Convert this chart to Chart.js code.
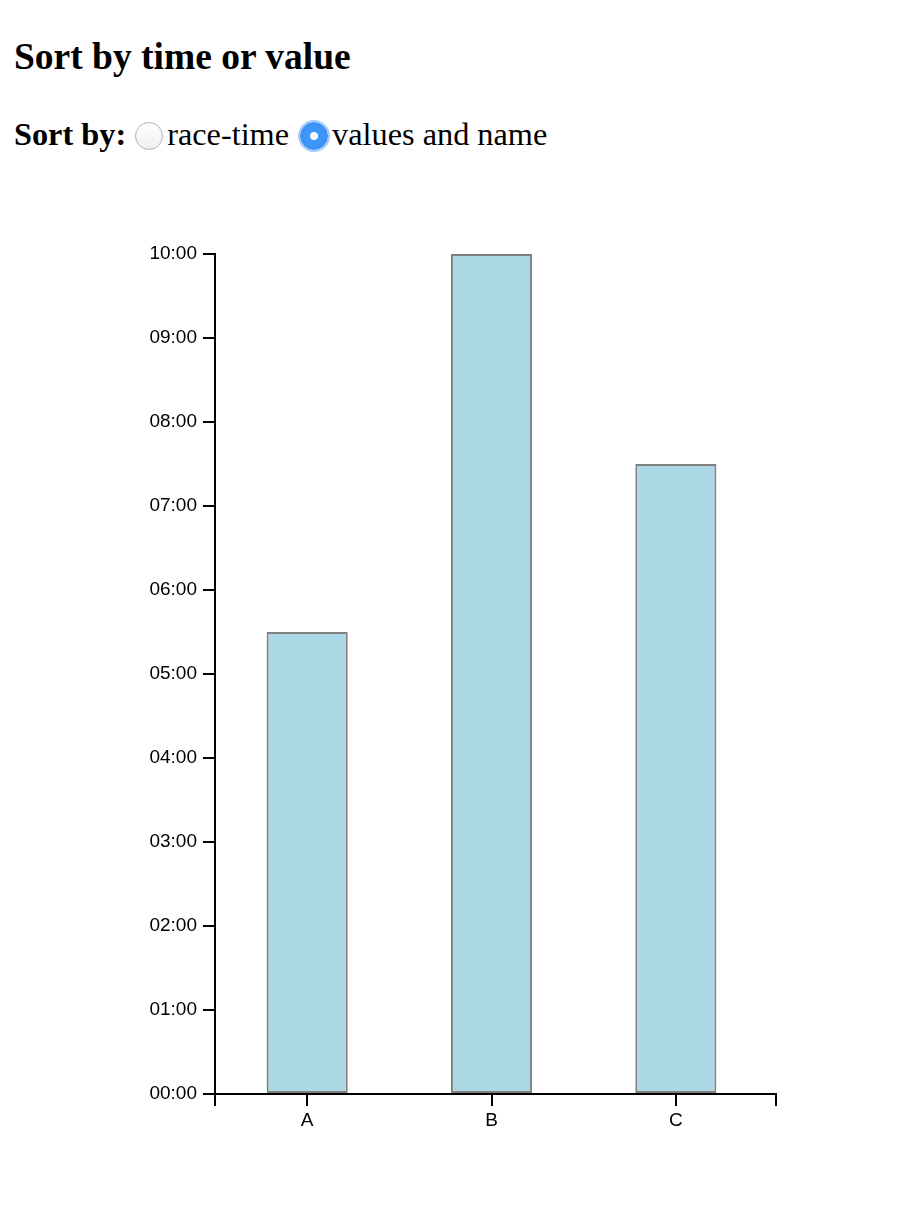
<!DOCTYPE html>
<html>
<head>
<meta charset="utf-8">
<script src="https://cdn.jsdelivr.net/npm/chart.js@4"></script>
<style>
    body { margin: 0; background: #fff; font-family: "Liberation Serif", "Times New Roman", serif; color: #000; }
    h2 { position: absolute; left: 14px; top: 34px; margin: 0; font-size: 37.5px; font-weight: bold; line-height: 46px; }
    #controls { position: absolute; left: 14px; top: 113px; font-size: 32.3px; line-height: 42px; white-space: nowrap; }
    #controls b { margin-right: 9px; }
    #controls input {
        -webkit-appearance: none; appearance: none;
        width: 28px; height: 28px; margin: 0 4px 0 0; vertical-align: -5px;
        border: 1px solid #b4b4b4; border-radius: 50%;
        background: linear-gradient(#fff, #f0f0f0);
    }
    #controls input:checked {
        border-color: #3b8ef0;
        background: radial-gradient(circle, #fff 0 3.5px, #3d95f7 4.5px);
        box-shadow: 0 0 0 2px #a6cbf8;
    }
    #controls label { margin-right: 11px; }
    #chart_box { position: absolute; left: 0; top: 230px; }
</style>
</head>
<body>
<h2>Sort by time or value</h2>
<div id="controls"><b>Sort by:</b><label><input type="radio" name="sort">race-time</label><label><input type="radio" name="sort" checked>values and name</label></div>
<div id="chart_box"><canvas id="canvas_times" width="914" height="930"></canvas></div>
<script>
var names = ["A", "B", "C"];
var times = [5.5, 10, 7.5];   // minutes
var y_ticks_max = 10;

function pad(n) {
    return (n < 10 ? "0" : "") + n;
}

function formatTime(v) {
    var m = Math.floor(v);
    var s = Math.round((v - m) * 60);
    return pad(m) + ":" + pad(s);
}

// x axis path runs a bit past the last band, with outer ticks at both ends (d3 style)
var axisEnd = 776;
var tickLen = 12;
var outerTicks = {
    id: "outerTicks",
    afterDraw: function(chart) {
        var ctx = chart.ctx;
        var area = chart.chartArea;
        ctx.save();
        ctx.strokeStyle = "#000";
        ctx.lineWidth = 2;
        ctx.beginPath();
        ctx.moveTo(area.right - 1, area.bottom);
        ctx.lineTo(axisEnd, area.bottom);
        ctx.moveTo(area.left, area.bottom);
        ctx.lineTo(area.left, area.bottom + tickLen);
        ctx.moveTo(axisEnd, area.bottom - 1);
        ctx.lineTo(axisEnd, area.bottom + tickLen);
        ctx.stroke();
        ctx.restore();
    }
};

function drawTimes() {
    var ctx = document.getElementById("canvas_times").getContext("2d");
    var barChart = new Chart(ctx, {
        type: 'bar',
        data: {
            labels: names,
            datasets: [{
                data: times,
                backgroundColor: "#add8e6",
                borderColor: "#808080",
                borderWidth: 2,
                borderSkipped: false,
                categoryPercentage: 1,
                barPercentage: 0.44
            }]
        },
        options: {
            responsive: false,
            animation: false,
            events: [],
            layout: { padding: { top: 24, right: 146, left: 0, bottom: 0 } },
            plugins: { legend: { display: false }, tooltip: { enabled: false } },
            scales: {
                x: {
                    offset: true,
                    border: { color: "#000", width: 2 },
                    grid: { offset: false, drawOnChartArea: false, drawTicks: true, tickLength: tickLen, color: "#000", lineWidth: 2 },
                    ticks: { color: "#000", padding: 3, font: { family: "Liberation Sans, Arial, sans-serif", size: 19 } },
                    afterFit: function(scale) { scale.height = 66; }
                },
                y: {
                    min: 0,
                    max: y_ticks_max,
                    border: { color: "#000", width: 2 },
                    grid: { drawOnChartArea: false, drawTicks: true, tickLength: tickLen, color: "#000", lineWidth: 2 },
                    ticks: {
                        stepSize: 1,
                        color: "#000",
                        padding: 6,
                        font: { family: "Liberation Sans, Arial, sans-serif", size: 19 },
                        callback: function(v) { return formatTime(v); }
                    },
                    afterFit: function(scale) { scale.width = 215; }
                }
            }
        },
        plugins: [outerTicks]
    });
}

drawTimes();
</script>
</body>
</html>
